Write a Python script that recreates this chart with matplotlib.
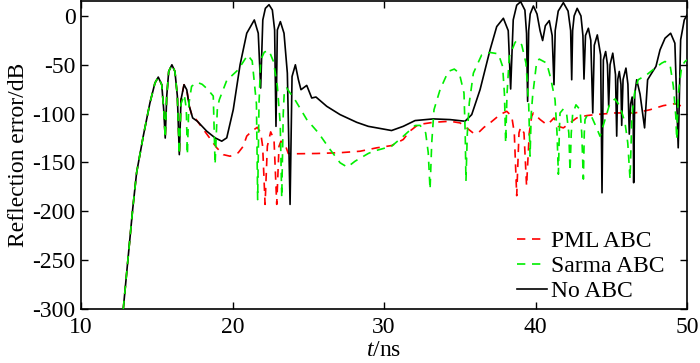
import matplotlib
matplotlib.use("Agg")
import matplotlib.pyplot as plt

plt.rcParams['font.family'] = ['Liberation Serif', 'DejaVu Serif']
plt.rcParams['mathtext.fontset'] = 'custom'
plt.rcParams['mathtext.rm'] = 'Liberation Serif'
plt.rcParams['mathtext.it'] = 'Liberation Serif:italic'
plt.rcParams['axes.unicode_minus'] = False

# ---------------- data (t in ns, reflection error in dB) ----------------
t_common = [12.79, 13.41, 13.67, 14.11, 14.55, 14.88, 15.1, 15.33, 15.46, 15.56,
            15.66, 15.79, 16.0, 16.2, 16.36, 16.49]
db_common = [-300, -198, -160.5, -123, -89, -68.7, -62.6, -70.4, -96, -125,
             -82, -56.8, -50, -56.8, -82, -142]

t_no = t_common + [16.6, 16.8, 16.98, 17.15, 17.37, 17.68, 18.3, 18.85, 19.29, 19.62,
                   20.05, 20.5, 20.94, 21.44, 21.7, 21.86, 22.0, 22.17, 22.41, 22.63,
                   22.78, 22.87, 22.96, 23.16, 23.4, 23.62, 23.8, 23.93, 24.15, 24.35,
                   24.52, 24.9, 25.23, 25.51, 26.22, 27.1, 28.2, 28.96, 29.52, 30.5,
                   31.27, 32.05, 33.26, 34.36, 35.35, 35.79, 36.34, 37.0, 37.44, 37.88,
                   38.2, 38.36, 38.53, 38.76, 39.02, 39.3, 39.41, 39.48, 39.55, 39.65,
                   39.86, 40.1, 40.3, 40.47, 40.65, 40.91, 41.1, 41.22, 41.3, 41.5,
                   41.84, 42.15, 42.32, 42.39, 42.45, 42.55, 42.75, 43.0, 43.13, 43.2,
                   43.3, 43.49, 43.65, 43.78, 43.88, 44.08, 44.3, 44.39, 44.48, 44.63,
                   44.75, 44.83, 44.92, 45.1, 45.28, 45.36, 45.43, 45.53, 45.64, 45.69,
                   45.78, 45.97, 46.1, 46.19, 46.28, 46.38, 46.45, 46.48, 46.55, 46.68,
                   46.9, 47.2, 47.4, 47.67, 47.95, 48.22, 48.55, 48.92, 49.2, 49.42,
                   49.58, 49.82, 50.0]
db_no = db_common + [-85.7, -70.4, -75.5, -92.5, -104.4, -107.8, -118, -124.8, -128.2, -124.8,
                     -95.9, -50, -17.7, -4.1, -17.7, -73.8, -4.1, 7.8, 11.5, 6.1,
                     -14.3, -113, -14.3, -5.8, -17.7, -58.5, -192.9, -62, -50, -65.3,
                     -75.5, -71.1, -84, -83, -92.5, -101, -108.9, -113, -114.6, -117.3,
                     -113, -107.1, -105.4, -106.1, -107.8, -101, -75.5, -34.7, -10.9, -2.4,
                     -15, -74.8, -4, 11, 14.6, 6, -18, -87.4, -15, 2,
                     10.2, 2, -15, -25.2, -10, -4.8, -20, -70.4, -15, 5,
                     13.6, 5, -15, -65.3, -15, 0, 7.8, 0, -20, -64.6,
                     -20, -12.6, -25, -99.3, -30, -19.4, -40, -181, -45, -36.4,
                     -50, -92.5, -50, -38.1, -60, -123, -65, -56.8, -70, -112,
                     -65, -53.4, -70, -121, -90, -83, -100, -170.7, -80, -65.3,
                     -80, -114.6, -65.3, -58.5, -51.7, -34.7, -22.8, -17.7, -27.9, -135,
                     -24.5, -4.1, 1]

t_sarma = t_common + [16.6, 16.82, 16.95, 17.02, 17.12, 17.3, 17.68, 18.0, 18.34, 18.73,
                      18.85, 19.0, 19.13, 19.62, 20.38, 21.0, 21.3, 21.58, 21.66, 21.75,
                      21.86, 22.1, 22.41, 22.7, 22.96, 23.15, 23.25, 23.35, 23.42, 23.57,
                      24.12, 24.9, 25.67, 26.44, 27.1, 27.58, 28.09, 28.96, 29.3, 30.5,
                      31.27, 32.05, 32.38, 32.75, 32.92, 33.04, 33.15, 33.3, 33.7, 34.24,
                      34.64, 34.97, 35.28, 35.36, 35.41, 35.5, 35.63, 35.9, 36.45, 37.0,
                      37.55, 37.83, 37.95, 38.03, 38.12, 38.27, 38.65, 38.76, 39.09, 39.37,
                      39.55, 39.64, 39.72, 39.81, 40.08, 40.25, 40.74, 41.0, 41.29, 41.42,
                      41.51, 41.58, 41.62, 41.84, 42.06, 42.2, 42.28, 42.36, 42.45, 42.67,
                      42.94, 43.05, 43.16, 43.22, 43.27, 43.44, 43.7, 44.03, 44.26, 44.59,
                      44.92, 45.25, 45.58, 45.91, 46.09, 46.24, 46.35, 46.41, 46.57, 46.78,
                      47.34, 47.89, 48.33, 48.55, 48.88, 49.1, 49.26, 49.32, 49.43, 49.65,
                      49.87, 50.0]
db_sarma = db_common + [-90, -80.6, -95, -142, -90, -72, -68, -70, -74.8, -82,
                        -152, -95, -85.7, -66, -55, -40, -46, -90, -188, -90,
                        -45, -37, -35.4, -46.6, -72, -110, -186, -100, -77, -73.8,
                        -85.7, -106, -119.7, -136.7, -150.3, -154.8, -148.7, -140.8, -138.5, -133.4,
                        -123.2, -112.2, -112, -119.7, -140, -177.6, -130, -96, -75.5, -56.8,
                        -54.4, -58.5, -78.9, -120, -169, -120, -89, -58.5, -39.8, -37.4,
                        -38.8, -51.7, -80, -130, -80, -41.5, -27.2, -25.2, -29.6, -48.3,
                        -90, -143.5, -100, -82, -46.6, -44.2, -48.3, -63.6, -85.7, -120,
                        -162, -115, -99.3, -95.2, -101, -120, -159, -120, -101, -91,
                        -96, -119.7, -167, -120, -106, -101, -103, -114.6, -123.2, -106,
                        -89, -85, -92.5, -109.5, -130, -167, -110, -96, -75.5, -65.3,
                        -60.2, -53.4, -48.3, -46.6, -50, -72, -102.7, -126.5, -79, -51.7,
                        -46.6, -45]

t_pml = t_common + [16.6, 16.8, 16.98, 17.15, 17.37, 17.6, 18.4, 18.96, 19.4, 19.84,
                    20.38, 20.71, 20.94, 21.27, 21.64, 21.86, 21.99, 22.15, 22.3, 22.52,
                    22.74, 22.92, 23.07, 23.2, 23.47, 23.68, 24.13, 25.56, 27.1, 28.42,
                    29.52, 30.5, 31.27, 31.7, 32.26, 33.26, 34.36, 35.02, 35.46, 35.9,
                    36.2, 36.6, 37.0, 37.66, 38.1, 38.43, 38.6, 38.76, 38.91, 39.02,
                    39.24, 39.41, 39.59, 39.75, 39.86, 40.3, 40.74, 41.0, 41.22, 41.5,
                    41.84, 42.28, 42.72, 43.38, 43.93, 45.25, 46.57, 47.56, 48.44, 49.2,
                    50.0]
db_pml = db_common + [-85.7, -70.4, -75.5, -92.5, -104.4, -106, -123, -135, -142, -143.6,
                      -140, -133.4, -123, -118, -114, -119.7, -133.4, -192.9, -133.4, -118.7,
                      -126.5, -192.9, -133.4, -128.2, -131.6, -140.8, -141.1, -140.8, -140, -138.5,
                      -135, -132.7, -126.5, -118, -111.2, -108.9, -107.8, -109.5, -114.6, -120,
                      -120, -114, -109.5, -101, -97.6, -102.7, -119.7, -184, -119.7, -114,
                      -119.7, -174, -119.7, -102.7, -99.3, -106, -111.2, -108, -104.4, -113,
                      -114.6, -109.5, -104.4, -102, -101, -99.3, -99.3, -96, -91.8, -89.8,
                      -94.2]

labels = ['PML ABC', 'Sarma ABC', 'No ABC']
x_ticks = [10, 20, 30, 40, 50]
y_ticks = [-300, -250, -200, -150, -100, -50, 0]

# ---------------- figure ----------------
fig = plt.figure(figsize=(7.0, 3.63), dpi=100)
ax = fig.add_axes([81 / 700, 1 - 309 / 363, 606 / 700, 308 / 363])

l_pml, = ax.plot(t_pml, db_pml, color='#ff0000', lw=1.2, ls=(0, (5, 4)), zorder=2)
l_no, = ax.plot(t_no, db_no, color='black', lw=1.2, zorder=3)
l_sarma, = ax.plot(t_sarma, db_sarma, color='#00ee00', lw=1.2, ls=(0, (5, 4)), zorder=4)

ax.set_xlim(10, 50)
ax.set_ylim(-300, 15.3)
ax.set_xticks(x_ticks)
ax.set_yticks(y_ticks)
ax.set_xticklabels([str(v) for v in x_ticks])
ax.set_yticklabels([str(v) for v in y_ticks])

ax.tick_params(direction='in', length=5, width=1, labelsize=17,
               top=True, right=True)
ax.tick_params(axis='x', pad=6)
ax.tick_params(axis='y', pad=4)
for s in ax.spines.values():
    s.set_linewidth(1.2)

ax.set_xlabel('$t$/ns', fontsize=17, labelpad=1)
ax.set_ylabel('Reflection error/dB', fontsize=17, labelpad=2)

leg = ax.legend([l_pml, l_sarma, l_no], labels, loc='lower left',
                bbox_to_anchor=((517 - 81) / 606, 0.023), frameon=False,
                fontsize=17, handlelength=1.25, handletextpad=0.2,
                labelspacing=0.14, borderpad=0, borderaxespad=0)

fig.savefig('out.png', dpi=100)
